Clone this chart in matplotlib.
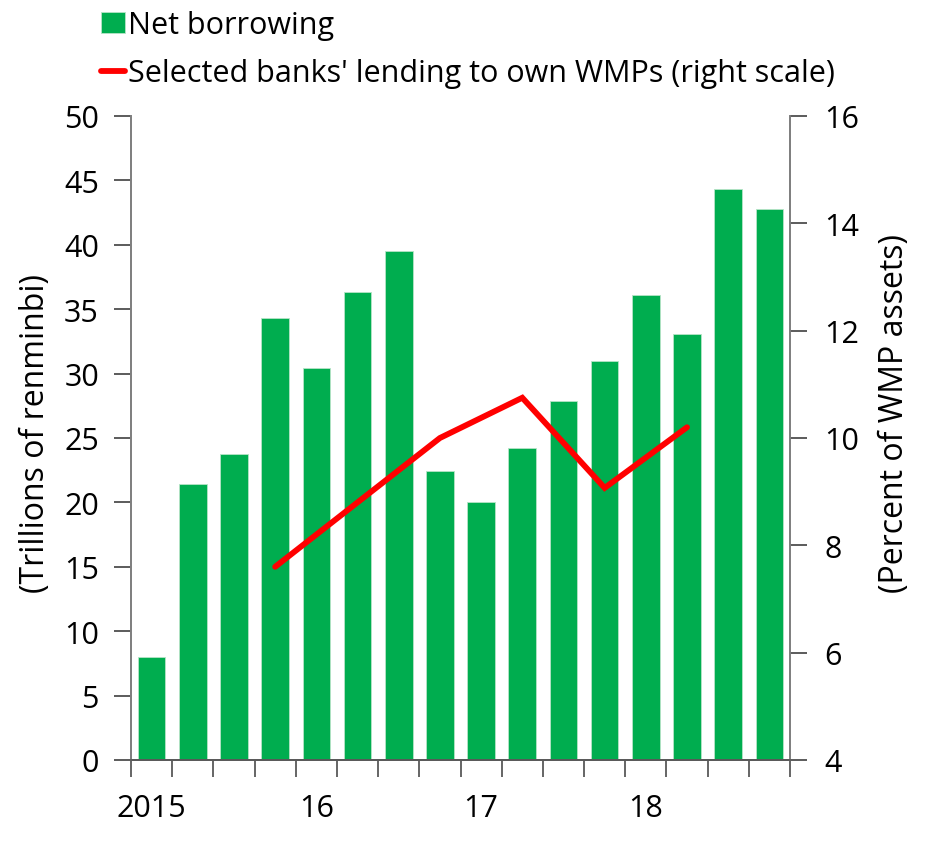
import matplotlib
matplotlib.use("Agg")
import matplotlib.pyplot as plt
import numpy as np

plt.rcParams['font.family'] = ['Open Sans', 'DejaVu Sans']

# Data
quarters = ["2015Q1", "2015Q2", "2015Q3", "2015Q4",
            "2016Q1", "2016Q2", "2016Q3", "2016Q4",
            "2017Q1", "2017Q2", "2017Q3", "2017Q4",
            "2018Q1", "2018Q2", "2018Q3", "2018Q4"]
net_borrowing = [8.0, 21.4, 23.75, 34.3, 30.4, 36.3, 39.5, 22.4,
                 20.0, 24.2, 27.9, 31.0, 36.1, 33.05, 44.3, 42.8]
line_quarters = ["2015Q4", "2016Q4", "2017Q2", "2017Q4", "2018Q2"]
wmp_lending = [7.6, 10.0, 10.75, 9.07, 10.2]
year_labels = ["2015", "16", "17", "18"]
year_label_quarters = ["2015Q1", "2016Q1", "2017Q1", "2018Q1"]

green = "#00AD4F"
red = "#FF0000"
spine_col = "#7F7F7F"

W, H = 938, 853
fig = plt.figure(figsize=(W / 100, H / 100), dpi=100)
ax = fig.add_axes([131 / W, 1 - 761 / H, (790 - 131) / W, (761 - 117) / H])
ax2 = ax.twinx()

x = np.arange(len(quarters))
ax.bar(x, net_borrowing, width=0.67, color=green, edgecolor="#B7E4C7",
       linewidth=0.6, zorder=2, label="Net borrowing")

lx = [quarters.index(q) for q in line_quarters]
ax2.plot(lx, wmp_lending, color=red, lw=4.2, solid_capstyle="round",
         solid_joinstyle="miter", zorder=3,
         label="Selected banks' lending to own WMPs (right scale)")

ax.set_xlim(-0.5, len(quarters) - 0.5)
ax.set_ylim(0, 50)
ax.set_yticks(np.arange(0, 51, 5))
ax2.set_ylim(4, 16)
ax2.set_yticks(np.arange(4, 17, 2))

# x ticks at category boundaries, labels at Q1 of each year
ax.set_xticks(np.arange(-0.5, len(quarters), 1.0))
ax.set_xticklabels([])
ax.set_xticks([quarters.index(q) for q in year_label_quarters], minor=True)
ax.set_xticklabels(year_labels, minor=True)
ax.tick_params(axis="x", which="minor", length=0, pad=24, labelsize=22)
ax.tick_params(axis="x", which="major", length=12, width=1.3, color="#595959")

ax.tick_params(axis="y", length=12, width=1.2, color="#404040", labelsize=22, pad=11)
ax2.tick_params(axis="y", length=12, width=1.2, color="#404040", labelsize=22, pad=12.5)

for a in (ax, ax2):
    a.spines["top"].set_visible(False)
    a.spines["left"].set_color(spine_col)
    a.spines["right"].set_color(spine_col)
    a.spines["left"].set_linewidth(1.3)
    a.spines["right"].set_linewidth(1.3)
    a.spines["bottom"].set_color("#595959")
    a.spines["bottom"].set_linewidth(1.3)

ax.set_ylabel("(Trillions of renminbi)", fontsize=23)
ax2.set_ylabel("(Percent of WMP assets)", fontsize=23, rotation=90)
ax_w = 790 - 131
ax_h = 761 - 117
ax.yaxis.set_label_coords((52 - 131) / ax_w, (761 - 434) / ax_h)
ax2.yaxis.set_label_coords((878 - 131) / ax_w, (761 - 414) / ax_h)

h1, l1 = ax.get_legend_handles_labels()
h2, l2 = ax2.get_legend_handles_labels()
leg = fig.legend(h1 + h2, l1 + l2, loc="upper left",
                 bbox_to_anchor=(101 / W, 1 - 11 / H), frameon=False,
                 fontsize=22, handlelength=0.8, handleheight=0.7,
                 handletextpad=0.1, labelspacing=0.6, borderaxespad=0,
                 borderpad=0)

fig.savefig("out.png", dpi=100)
